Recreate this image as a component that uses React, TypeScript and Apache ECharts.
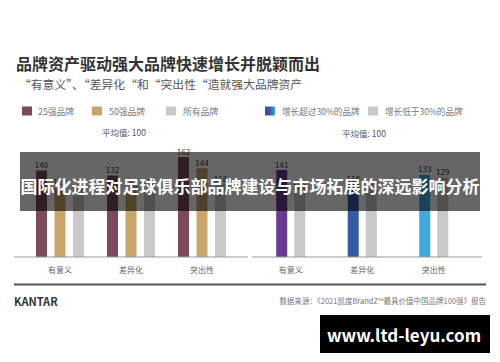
import React, { useEffect, useRef } from "react";
import * as echarts from "echarts";

const categories = ["有意义", "差异化", "突出性"];
const top25 = [140, 132, 162];
const top50 = [112, 108, 144];
const allBrands = [100, 112, 118];
const fastGrowth = [141, 118, 133];
const slowGrowth = [104, 110, 129];
const fastColors = ["#6B3A92", "#3459A7", "#41A9DF"];

const FONT = "'Noto Sans CJK SC', 'Noto Sans', sans-serif";

export default function App() {
  const ref = useRef<HTMLDivElement>(null);
  useEffect(() => {
    if (!ref.current) return;
    const chart = echarts.init(ref.current, null, { renderer: "svg" });
    const label = {
      show: true,
      position: "top",
      distance: 2,
      fontSize: 8,
      color: "#333",
      fontFamily: FONT,
    };
    const xAxisBase = {
      type: "category",
      data: categories,
      axisLine: { show: false },
      axisTick: { show: false },
      axisLabel: { color: "#666", fontSize: 8, margin: 8, fontFamily: FONT },
    };
    const yAxisBase = { type: "value", min: 0, max: 200, show: false };
    const txt = (x: number, y: number, text: string, style: any) => ({
      type: "text",
      x,
      y,
      z: 10,
      style: { text, fontFamily: FONT, textVerticalAlign: "middle", ...style },
    });
    const sq = (x: number, y: number, fill: any) => ({
      type: "rect",
      z: 10,
      shape: { x, y, width: 10, height: 9 },
      style: { fill },
    });
    chart.setOption({
      animation: false,
      backgroundColor: "#ffffff",
      grid: [
        { left: 24.5, width: 213, top: 133.6, height: 123.4 },
        { left: 255, width: 214.5, top: 133.6, height: 123.4 },
      ],
      xAxis: [
        { ...xAxisBase, gridIndex: 0 },
        { ...xAxisBase, gridIndex: 1 },
      ],
      yAxis: [
        { ...yAxisBase, gridIndex: 0 },
        { ...yAxisBase, gridIndex: 1 },
      ],
      series: [
        {
          name: "25强品牌",
          type: "bar",
          xAxisIndex: 0,
          yAxisIndex: 0,
          data: top25,
          barWidth: 11,
          barGap: "68%",
          itemStyle: { color: "#7B4A5B" },
          label,
        },
        {
          name: "50强品牌",
          type: "bar",
          xAxisIndex: 0,
          yAxisIndex: 0,
          data: top50,
          barWidth: 11,
          barGap: "68%",
          itemStyle: { color: "#C9A56A" },
          label,
        },
        {
          name: "所有品牌",
          type: "bar",
          xAxisIndex: 0,
          yAxisIndex: 0,
          data: allBrands,
          barWidth: 11,
          barGap: "68%",
          itemStyle: { color: "#C9C9C9" },
          label,
        },
        {
          name: "增长超过30%的品牌",
          type: "bar",
          xAxisIndex: 1,
          yAxisIndex: 1,
          data: fastGrowth.map((v, i) => ({ value: v, itemStyle: { color: fastColors[i] } })),
          barWidth: 11,
          barGap: "64%",
          label,
        },
        {
          name: "增长低于30%的品牌",
          type: "bar",
          xAxisIndex: 1,
          yAxisIndex: 1,
          data: slowGrowth,
          barWidth: 11,
          barGap: "64%",
          itemStyle: { color: "#C9C9C9" },
          label,
        },
      ],
      graphic: [
        txt(16, 62.5, "品牌资产驱动强大品牌快速增长并脱颖而出", {
          fontSize: 16,
          fontWeight: "bold",
          fill: "#333",
        }),
        txt(19, 83.5, "“有意义”、“差异化“和“突出性“造就强大品牌资产", {
          fontSize: 11.8,
          fill: "#555",
        }),
        sq(22, 106.5, "#7B4A5B"),
        txt(38, 111, "25强品牌", { fontSize: 8.8, fill: "#777" }),
        sq(92, 106.5, "#C9A56A"),
        txt(109, 111, "50强品牌", { fontSize: 8.8, fill: "#777" }),
        sq(166, 106.5, "#C9C9C9"),
        txt(183, 111, "所有品牌", { fontSize: 8.8, fill: "#777" }),
        sq(
          265,
          106.5,
          new echarts.graphic.LinearGradient(0, 0, 1, 0, [
            { offset: 0, color: "#6B3A92" },
            { offset: 0.5, color: "#3459A7" },
            { offset: 1, color: "#41A9DF" },
          ])
        ),
        txt(282, 111, "增长超过30%的品牌", { fontSize: 8.6, fill: "#777" }),
        sq(368, 106.5, "#C9C9C9"),
        txt(385, 111, "增长低于30%的品牌", { fontSize: 8.6, fill: "#777" }),
        txt(124, 132, "平均值: 100", { fontSize: 8.5, fill: "#555", textAlign: "center" }),
        txt(364, 132.5, "平均值: 100", { fontSize: 8.5, fill: "#555", textAlign: "center" }),
        {
          type: "line",
          z: 10,
          shape: { x1: 14, y1: 257, x2: 248, y2: 257 },
          style: { stroke: "#9a9a9a", lineWidth: 1 },
        },
        {
          type: "line",
          z: 10,
          shape: { x1: 252, y1: 257, x2: 482, y2: 257 },
          style: { stroke: "#9a9a9a", lineWidth: 1 },
        },
        {
          type: "rect",
          z: 100,
          shape: { x: 20, y: 152, width: 460, height: 59 },
          style: { fill: "rgba(0,0,0,0.6)" },
        },
        {
          ...txt(250, 185.5, "国际化进程对足球俱乐部品牌建设与市场拓展的深远影响分析", {
            fontSize: 17,
            fontWeight: "bold",
            fill: "#ffffff",
            textAlign: "center",
          }),
          z: 101,
        },
        {
          type: "line",
          z: 10,
          shape: { x1: 14, y1: 284.5, x2: 486, y2: 284.5 },
          style: { stroke: "#555", lineWidth: 2 },
        },
        txt(14, 300.5, "KANTAR", { fontSize: 11, fontWeight: "bold", fill: "#333" }),
        txt(486, 300, "数据来源：《2021凯度BrandZ™最具价值中国品牌100强》报告", {
          fontSize: 7.5,
          fill: "#777",
          textAlign: "right",
        }),
        {
          type: "rect",
          z: 100,
          shape: { x: 320, y: 315, width: 170, height: 38 },
          style: { fill: "#000" },
        },
        {
          ...txt(404, 334.5, "www.ltd-leyu.com", {
            fontSize: 17,
            fontWeight: "bold",
            fill: "#ffffff",
            textAlign: "center",
          }),
          z: 101,
        },
      ],
    });
    return () => chart.dispose();
  }, []);
  return (
    <div
      ref={ref}
      style={{ position: "fixed", left: 0, top: 0, width: 500, height: 362, background: "#fff" }}
    />
  );
}
